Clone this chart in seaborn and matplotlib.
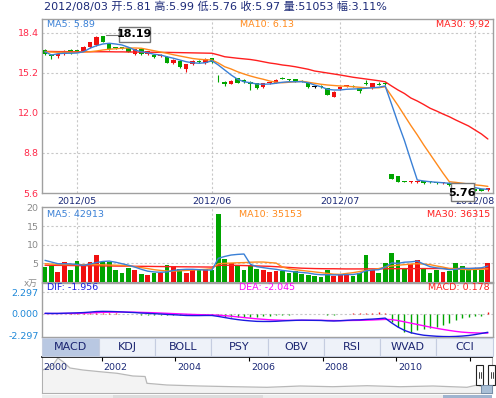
import numpy as np
import matplotlib
matplotlib.use('Agg')
import matplotlib.pyplot as plt
import seaborn as sns
from matplotlib.patches import Rectangle

# ---------------- data ----------------
title_text = "2012/08/03 开:5.81 高:5.99 低:5.76 收:5.97 量:51053 幅:3.11%"
month_pos = [5, 26, 46, 67]
month_labels = ["2012/05", "2012/06", "2012/07", "2012/08"]

open_ = [17.04, 16.66, 16.56, 16.70, 17.04, 16.99, 16.98, 17.26, 17.44, 18.19,
         17.58, 17.20, 17.24, 17.22, 16.70, 17.10, 16.70, 16.64, 16.60, 16.50,
         15.98, 16.18, 15.50, 15.90, 16.12, 16.02, 16.38, 14.90, 14.50, 14.30,
         14.78, 14.64, 14.50, 14.38, 14.06, 14.40, 14.42, 14.80, 14.66, 14.70,
         14.56, 14.42, 14.06, 14.12, 13.98, 13.30, 13.90, 14.14, 14.14, 13.98,
         14.34, 14.06, 14.32, 14.34, 7.12, 6.98, 6.52, 6.48, 6.48, 6.56,
         6.48, 6.40, 6.38, 6.42, 6.38, 6.24, 6.18, 5.94, 5.94, 5.81]
close = [16.70, 16.56, 16.72, 16.96, 16.78, 16.97, 17.30, 17.66, 18.06, 17.70,
         17.10, 17.17, 17.20, 16.90, 17.10, 16.70, 16.96, 16.46, 16.64, 16.02,
         16.24, 15.66, 15.92, 16.16, 16.08, 16.32, 16.06, 14.85, 14.30, 14.56,
         14.42, 14.46, 14.30, 13.98, 14.38, 14.44, 14.64, 14.76, 14.62, 14.50,
         14.52, 14.06, 14.06, 14.08, 13.44, 13.70, 14.06, 14.18, 14.10, 13.76,
         14.30, 14.38, 14.28, 14.30, 6.72, 6.50, 6.50, 6.52, 6.52, 6.38,
         6.46, 6.38, 6.41, 6.24, 6.18, 5.98, 5.98, 5.80, 5.80, 5.97]
high = [17.10, 16.70, 16.75, 17.00, 17.10, 17.05, 17.35, 17.70, 18.12, 18.19,
        17.60, 17.25, 17.30, 17.25, 17.12, 17.12, 16.98, 16.70, 16.75, 16.55,
        16.28, 16.20, 15.95, 16.20, 16.25, 16.40, 16.42, 15.00, 14.55, 14.60,
        14.80, 14.70, 14.55, 14.40, 14.40, 14.50, 14.70, 14.85, 14.72, 14.75,
        14.60, 14.45, 14.12, 14.20, 14.00, 13.72, 14.10, 14.25, 14.20, 14.00,
        14.60, 14.40, 14.45, 14.45, 7.15, 7.00, 6.60, 6.60, 6.60, 6.60,
        6.55, 6.45, 6.45, 6.45, 6.40, 6.26, 6.20, 5.96, 5.96, 5.99]
low = [16.60, 16.30, 16.40, 16.65, 16.75, 16.90, 16.95, 17.20, 17.40, 17.65,
       17.05, 17.10, 17.10, 16.85, 16.65, 16.65, 16.60, 16.40, 16.50, 15.98,
       15.90, 15.60, 15.30, 15.85, 16.00, 15.95, 16.00, 14.50, 14.15, 14.28,
       14.40, 14.40, 13.85, 13.95, 14.00, 14.35, 14.40, 14.70, 14.58, 14.45,
       14.45, 14.02, 13.98, 14.00, 13.40, 13.28, 13.85, 14.05, 14.05, 13.60,
       14.25, 13.90, 14.20, 14.25, 6.70, 6.48, 6.45, 6.42, 6.40, 6.35,
       6.40, 6.32, 6.35, 6.20, 6.15, 5.95, 5.95, 5.76, 5.78, 5.76]

ma5 = [16.9, 16.64, 16.74, 16.78, 16.78, 16.8, 16.9, 17.18, 17.38, 17.52,
       17.58, 17.52, 17.44, 17.26, 17.04, 16.9, 16.82, 16.7, 16.64, 16.5,
       16.38, 16.24, 16.1, 16.02, 15.98, 16.02, 16.18, 15.84, 15.44, 15.04,
       14.7, 14.5, 14.42, 14.32, 14.3, 14.32, 14.38, 14.46, 14.5, 14.5,
       14.5, 14.42, 14.24, 14.1, 13.9, 13.84, 13.84, 13.9, 13.92, 13.94,
       13.98, 14.02, 14.06, 14.16, 12.7, 11.2, 9.8, 8.2, 6.64, 6.56,
       6.5, 6.46, 6.42, 6.38, 6.33, 6.23, 6.15, 6.03, 5.93, 5.89]
ma10 = [16.9, 16.88, 16.86, 16.86, 16.86, 16.86, 16.88, 16.9, 16.96, 17.04,
        17.1, 17.14, 17.18, 17.2, 17.2, 17.18, 17.08, 16.98, 16.88, 16.78,
        16.66, 16.56, 16.46, 16.36, 16.3, 16.26, 16.24, 16.0, 15.7, 15.52,
        15.3, 15.12, 14.96, 14.82, 14.7, 14.56, 14.46, 14.42, 14.46, 14.5,
        14.54, 14.46, 14.38, 14.3, 14.24, 14.2, 14.16, 14.14, 14.1, 14.06,
        14.02, 14.02, 14.02, 14.1, 13.35, 12.6, 11.8, 11.0, 10.25, 9.45,
        8.7, 7.95, 7.2, 6.5, 6.45, 6.38, 6.32, 6.25, 6.2, 6.13]
ma30 = [16.92, 16.92, 16.91, 16.91, 16.9, 16.9, 16.9, 16.9, 16.9, 16.9,
        16.9, 16.89, 16.89, 16.88, 16.88, 16.87, 16.86, 16.86, 16.85, 16.85,
        16.84, 16.83, 16.82, 16.81, 16.8, 16.79, 16.78, 16.65, 16.5, 16.44,
        16.38, 16.33, 16.28, 16.2, 16.1, 16.0, 15.93, 15.84, 15.78, 15.7,
        15.6, 15.5, 15.36, 15.28, 15.2, 15.12, 15.04, 14.95, 14.86, 14.79,
        14.72, 14.65, 14.58, 14.5, 14.16, 13.84, 13.56, 13.2, 12.96, 12.68,
        12.38, 12.16, 11.92, 11.7, 11.44, 11.2, 10.96, 10.64, 10.32, 9.92]

volume = [4.0, 4.27, 2.65, 5.35, 3.1, 5.54, 4.19, 5.35, 7.16, 5.35,
          5.35, 3.3, 2.49, 3.84, 3.1, 2.2, 1.75, 2.38, 2.45, 4.65,
          4.27, 3.57, 2.49, 3.57, 3.3, 3.57, 3.1, 18.2, 6.08, 5.19,
          4.46, 3.3, 4.46, 3.57, 3.3, 2.65, 2.84, 2.84, 2.38, 2.84,
          2.03, 1.76, 1.49, 1.3, 3.1, 1.49, 2.03, 2.03, 1.49, 2.38,
          7.16, 3.1, 2.38, 5.08, 7.78, 5.81, 3.57, 4.92, 6.0, 3.57,
          2.38, 3.3, 2.65, 2.84, 5.08, 4.19, 3.3, 3.3, 3.1, 5.1]
vma5 = [5.8, 5.35, 4.9, 4.9, 4.85, 4.7, 4.46, 4.8, 5.2, 5.5,
        5.6, 5.3, 4.9, 4.5, 4.0, 3.4, 2.9, 2.7, 2.6, 2.7,
        3.1, 3.3, 3.4, 3.4, 3.3, 3.2, 3.2, 6.35, 6.85, 7.23,
        7.4, 7.5, 4.75, 4.1, 3.85, 3.6, 3.4, 3.1, 2.9, 2.7,
        2.55, 2.4, 2.1, 1.95, 1.95, 1.9, 1.9, 2.0, 2.0, 2.3,
        3.0, 3.2, 3.3, 4.0, 5.1, 5.0, 5.3, 5.4, 5.6, 4.8,
        4.1, 3.8, 3.6, 3.3, 3.4, 3.7, 3.6, 3.7, 3.8, 4.29]
vma10 = [4.9, 4.8, 4.7, 4.65, 4.66, 4.64, 4.65, 4.67, 4.65, 4.6,
         4.55, 4.5, 4.46, 4.3, 4.1, 3.85, 3.6, 3.3, 3.1, 2.95,
         2.9, 3.0, 3.1, 3.2, 3.3, 3.4, 3.57, 4.9, 5.0, 5.08,
         5.15, 5.2, 5.3, 5.35, 5.35, 5.2, 5.08, 4.0, 3.57, 3.3,
         3.1, 2.9, 2.7, 2.5, 2.3, 2.1, 2.05, 2.3, 2.5, 2.8,
         3.1, 3.3, 3.6, 4.0, 4.3, 4.5, 4.65, 4.8, 4.9, 4.8,
         4.65, 4.3, 4.0, 3.6, 3.5, 3.4, 3.3, 3.4, 3.45, 3.52]
vma30 = [4.5, 4.47, 4.46, 4.45, 4.41, 4.4, 4.37, 4.36, 4.35, 4.31,
         4.3, 4.27, 4.26, 4.25, 4.21, 4.2, 4.19, 4.16, 4.14, 4.13,
         4.1, 4.08, 4.07, 4.05, 4.04, 4.02, 4.0, 4.45, 4.5, 4.48,
         4.45, 4.4, 4.35, 4.3, 4.25, 4.2, 4.1, 4.0, 3.9, 3.8,
         3.7, 3.65, 3.6, 3.57, 3.55, 3.55, 3.52, 3.5, 3.5, 3.5,
         3.52, 3.52, 3.53, 3.55, 3.56, 3.57, 3.58, 3.58, 3.6, 3.6,
         3.6, 3.6, 3.61, 3.61, 3.61, 3.62, 3.62, 3.62, 3.63, 3.63]

dif = [0.07, 0.06, 0.06, 0.08, 0.1, 0.12, 0.15, 0.2, 0.26, 0.28,
       0.27, 0.25, 0.22, 0.18, 0.15, 0.1, 0.07, 0.03, 0.0, -0.05,
       -0.08, -0.12, -0.16, -0.17, -0.17, -0.16, -0.16, -0.26, -0.38, -0.5,
       -0.6, -0.68, -0.74, -0.79, -0.8, -0.8, -0.78, -0.74, -0.71, -0.68,
       -0.66, -0.67, -0.68, -0.69, -0.73, -0.75, -0.72, -0.68, -0.64, -0.63,
       -0.58, -0.55, -0.5, -0.44, -0.95, -1.4, -1.75, -2.0, -2.15, -2.27,
       -2.33, -2.38, -2.41, -2.42, -2.4, -2.36, -2.3, -2.2, -2.08, -1.956]
dea = [0.05, 0.05, 0.05, 0.06, 0.06, 0.07, 0.09, 0.11, 0.14, 0.17,
       0.19, 0.2, 0.21, 0.2, 0.19, 0.17, 0.15, 0.13, 0.1, 0.07,
       0.04, 0.01, -0.02, -0.05, -0.07, -0.09, -0.1, -0.13, -0.18, -0.24,
       -0.31, -0.38, -0.45, -0.52, -0.57, -0.62, -0.65, -0.67, -0.68, -0.68,
       -0.68, -0.68, -0.68, -0.68, -0.69, -0.7, -0.71, -0.7, -0.69, -0.68,
       -0.66, -0.64, -0.61, -0.58, -0.6, -0.7, -0.84, -0.98, -1.12, -1.26,
       -1.4, -1.53, -1.65, -1.76, -1.86, -1.94, -1.99, -2.02, -2.04, -2.045]
macd = [0.02, 0.02, 0.02, 0.04, 0.06, 0.08, 0.1, 0.12, 0.14, 0.12,
        0.1, 0.08, 0.04, -0.02, -0.04, -0.07, -0.09, -0.1, -0.12, -0.14,
        -0.15, -0.16, -0.16, -0.14, -0.12, -0.12, -0.14, -0.26, -0.32, -0.36,
        -0.36, -0.34, -0.32, -0.3, -0.26, -0.22, -0.16, -0.12, -0.08, -0.04,
        0.04, -0.03, -0.04, -0.05, -0.08, -0.06, -0.02, 0.04, 0.06, 0.08,
        0.12, 0.14, 0.16, 0.14, -0.82, -1.36, -1.89, -2.0, -1.71, -1.6,
        -1.53, -1.36, -1.18, -1.0, -0.64, -0.46, -0.36, -0.26, -0.2, 0.178]

tabs = ["MACD", "KDJ", "BOLL", "PSY", "OBV", "RSI", "WVAD", "CCI"]

nav_year = [2000.40, 2000.68, 2000.81, 2000.95, 2001.14, 2001.49, 2001.95, 2002.42,
            2002.85, 2003.18, 2003.23, 2003.77, 2004.67, 2005.57, 2006.49, 2006.92,
            2007.39, 2008.28, 2009.21, 2010.11, 2011.00, 2011.92, 2012.20, 2012.47]
nav_val = [23, 28, 35, 31.3, 25, 23, 21.3, 19.7, 17, 16.5, 9.7, 8, 7, 6.3, 5.7,
           6.3, 7, 6.3, 7.3, 6.3, 7, 5.7, 8, 4.7]
nav_years = [2002, 2004, 2006, 2008, 2010, 2012]
nav_labels = ["2000", "2002", "2004", "2006", "2008", "2010"]

# ---------------- style ----------------
sns.set_theme(style='white')
plt.rcParams['font.family'] = ['DejaVu Sans', 'Noto Sans CJK SC']
plt.rcParams['axes.unicode_minus'] = False

RED = '#f01010'
GREEN = '#00a400'
BLACK = '#000000'
C_MA5 = '#3a80d6'
C_MA10 = '#ff8a1c'
C_MA30 = '#ff1f1f'
SPINE = '#a0a0a0'
GRID = '#c8c8c8'
NAVY = '#1c2a78'

W, H = 496, 398
fig = plt.figure(figsize=(W / 100, H / 100), dpi=100)
fig.patch.set_facecolor('white')


def px_axes(x0, y0, x1, y1):
    return fig.add_axes([x0 / W, 1 - y1 / H, (x1 - x0) / W, (y1 - y0) / H])


def style_axes(ax):
    for s in ax.spines.values():
        s.set_color(SPINE)
        s.set_linewidth(1.0)
    ax.set_facecolor('white')


n = len(close)
idx = np.arange(n)
XLIM = (-0.47, 69.8)
o = np.array(open_)
c = np.array(close)
h = np.array(high)
l = np.array(low)
cols = np.where(c > o, RED, np.where(c < o, GREEN, BLACK))
vcols = np.where(c > o, RED, GREEN)
dash = (0, (2, 2))

# ---------------- main price panel ----------------
ax = px_axes(42, 19, 493, 193)
style_axes(ax)
ax.set_xlim(*XLIM)
ax.set_ylim(5.6, 19.52)
yt = [5.6, 8.8, 12.0, 15.2, 18.4]
ax.set_yticks(yt)
ax.set_yticklabels([f"{v:.1f}" for v in yt])
ax.tick_params(axis='y', length=0, pad=2.5, labelsize=6.8, labelcolor='#ff2a4a')
ax.set_xticks(month_pos)
ax.set_xticklabels(month_labels)
ax.tick_params(axis='x', length=0, pad=2.5, labelsize=6.8, labelcolor=NAVY)
for v in yt[1:]:
    ax.axhline(v, color=GRID, lw=0.8, ls=dash, zorder=1)
for m in month_pos:
    ax.axvline(m, color=GRID, lw=0.8, ls=dash, zorder=1)

ax.vlines(idx, l, h, colors=cols, lw=0.8, zorder=3)
ax.bar(idx, np.maximum(np.abs(c - o), 0.07), bottom=np.minimum(o, c), width=0.7,
       color=cols, linewidth=0, zorder=4)
sns.lineplot(x=idx, y=ma30, ax=ax, color=C_MA30, lw=1.0, zorder=5, legend=False)
sns.lineplot(x=idx, y=ma10, ax=ax, color=C_MA10, lw=1.0, zorder=5, legend=False)
sns.lineplot(x=idx, y=ma5, ax=ax, color=C_MA5, lw=1.0, zorder=5, legend=False)
ax.set_xlabel('')
ax.set_ylabel('')

# ---------------- volume panel ----------------
axv = px_axes(42, 207, 493, 282)
style_axes(axv)
axv.set_xlim(*XLIM)
axv.set_ylim(0, 20.1)
axv.set_xticks([])
vt = [5, 10, 15, 20]
axv.set_yticks(vt)
axv.set_yticklabels([str(v) for v in vt])
axv.tick_params(axis='y', length=0, pad=2.5, labelsize=6.8, labelcolor='#8a8a8a')
for v in vt[:-1]:
    axv.axhline(v, color=GRID, lw=0.8, ls=dash, zorder=1)
for m in month_pos:
    axv.axvline(m, color=GRID, lw=0.8, ls=dash, zorder=1)
axv.bar(idx, volume, width=0.74, color=vcols, linewidth=0, zorder=3)
sns.lineplot(x=idx, y=vma30, ax=axv, color=C_MA30, lw=1.0, zorder=5, legend=False)
sns.lineplot(x=idx, y=vma10, ax=axv, color=C_MA10, lw=1.0, zorder=5, legend=False)
sns.lineplot(x=idx, y=vma5, ax=axv, color=C_MA5, lw=1.0, zorder=5, legend=False)
axv.set_xlabel('')
axv.set_ylabel('')

# ---------------- MACD panel ----------------
axm = px_axes(42, 283, 493, 337)
style_axes(axm)
axm.set_xlim(*XLIM)
axm.set_ylim(-2.46, 3.31)
axm.set_xticks([])
mt = [-2.297, 0.0, 2.297]
axm.set_yticks(mt)
axm.set_yticklabels([f"{v:.3f}" for v in mt])
axm.tick_params(axis='y', length=0, pad=2.5, labelsize=6.8, labelcolor='#1e88d8')
axm.axhline(0, color=GRID, lw=0.8, ls=dash, zorder=1)
axm.axhline(2.297, color=GRID, lw=0.8, ls=dash, zorder=1)
mv = np.array(macd)
axm.vlines(idx, 0, mv, colors=np.where(mv > 0, RED, GREEN), lw=1.0, zorder=3)
sns.lineplot(x=idx, y=dea, ax=axm, color='#ff00ff', lw=1.0, zorder=5, legend=False)
sns.lineplot(x=idx, y=dif, ax=axm, color='#1a1ae0', lw=1.0, zorder=5, legend=False)
axm.set_xlabel('')
axm.set_ylabel('')

# ---------------- navigator ----------------
axn = px_axes(42, 357, 492, 393)
for s in axn.spines.values():
    s.set_color('#b0b0b0')
    s.set_linewidth(0.8)
axn.spines['top'].set_color('#000000')
axn.spines['top'].set_linewidth(1.2)
axn.set_xlim(2000.38, 2012.6)
axn.set_ylim(0, 36)
axn.set_xticks([])
axn.set_yticks([])
axn.fill_between(nav_year, nav_val, 0, color='#f3f3f3', lw=0)
sns.lineplot(x=nav_year, y=nav_val, ax=axn, color='#b8b8b8', lw=0.9, legend=False)
axn.vlines(nav_years, 32.5, 36, colors='#000000', lw=0.8)
axn.text(2000.42, 25, nav_labels[0], fontsize=6.8, color=NAVY, ha='left', va='center')
for yv, lab in zip(nav_years[:-1], nav_labels[1:]):
    axn.text(yv + 0.05, 25, lab, fontsize=6.8, color=NAVY, ha='left', va='center')
axn.set_xlabel('')
axn.set_ylabel('')

# ---------------- overlay (px coordinates) ----------------
ov = fig.add_axes([0, 0, 1, 1])
ov.set_xlim(0, W)
ov.set_ylim(H, 0)
ov.axis('off')
ov.set_zorder(20)

ov.text(44, 6.5, title_text, fontsize=8, color=NAVY, ha='left', va='center')

fs = 6.8
ov.text(47, 24.5, "MA5: 5.89", fontsize=fs, color=C_MA5, ha='left', va='center')
ov.text(240, 24.5, "MA10: 6.13", fontsize=fs, color=C_MA10, ha='left', va='center')
ov.text(490, 24.5, "MA30: 9.92", fontsize=fs, color=C_MA30, ha='right', va='center')
ov.text(47, 214.5, "MA5: 42913", fontsize=fs, color=C_MA5, ha='left', va='center')
ov.text(239, 214.5, "MA10: 35153", fontsize=fs, color=C_MA10, ha='left', va='center')
ov.text(490, 214.5, "MA30: 36315", fontsize=fs, color=C_MA30, ha='right', va='center')
ov.text(47, 288, "DIF: -1.956", fontsize=fs, color='#1a1ae0', ha='left', va='center')
ov.text(239, 288, "DEA: -2.045", fontsize=fs, color='#ff00ff', ha='left', va='center')
ov.text(490, 288, "MACD: 0.178", fontsize=fs, color=C_MA30, ha='right', va='center')
ov.text(38, 283, "x万", fontsize=6.3, color='#8a8a8a', ha='right', va='center')

# high / low markers
ov.plot([106, 119], [34.5, 34.5], color='#777777', lw=0.8)
ov.add_patch(Rectangle((119, 26.7), 31, 15, facecolor='white', edgecolor='#777777', lw=1.0))
ov.text(134.5, 34.4, "18.19", fontsize=8, fontweight='bold', color='black', ha='center', va='center')
ov.add_patch(Rectangle((450.5, 183), 23, 18, facecolor='white', edgecolor='#777777', lw=1.0))
ov.text(462, 192.5, "5.76", fontsize=8, fontweight='bold', color='black', ha='center', va='center')

# tabs
tab_edges = [42, 99, 155, 211, 267.7, 324, 380, 436, 492.5]
for i, t in enumerate(tabs):
    x0, x1 = tab_edges[i], tab_edges[i + 1]
    fc = '#b9c8e2' if i == 0 else '#eef2f9'
    ov.add_patch(Rectangle((x0, 338), x1 - x0, 18, facecolor=fc, edgecolor='#c5cde0', lw=0.8))
    ov.text((x0 + x1) / 2, 347.3, t, fontsize=8, color='#1a2470', ha='center', va='center')

# navigator handles
for hx in (476, 488):
    ov.add_patch(Rectangle((hx, 365), 7, 20, facecolor='white', edgecolor='#222222', lw=0.8))
    ov.plot([hx + 2.5, hx + 2.5], [372, 378], color='#222222', lw=0.6)
    ov.plot([hx + 4.5, hx + 4.5], [372, 378], color='#222222', lw=0.6)
ov.add_patch(Rectangle((481, 385), 11, 7.5, facecolor='#a9bfd6', edgecolor='#6c86a3', lw=0.6))

# bottom scroll strip
ov.add_patch(Rectangle((42, 394.5), 450, 3.5, facecolor='#ececec', edgecolor='none'))
ov.add_patch(Rectangle((113, 394.5), 150, 3.5, facecolor='#dcdcdc', edgecolor='none'))
ov.add_patch(Rectangle((443, 394.5), 49, 3.5, facecolor='#9fb4cf', edgecolor='none'))

fig.savefig('out.png', dpi=100, facecolor='white')
